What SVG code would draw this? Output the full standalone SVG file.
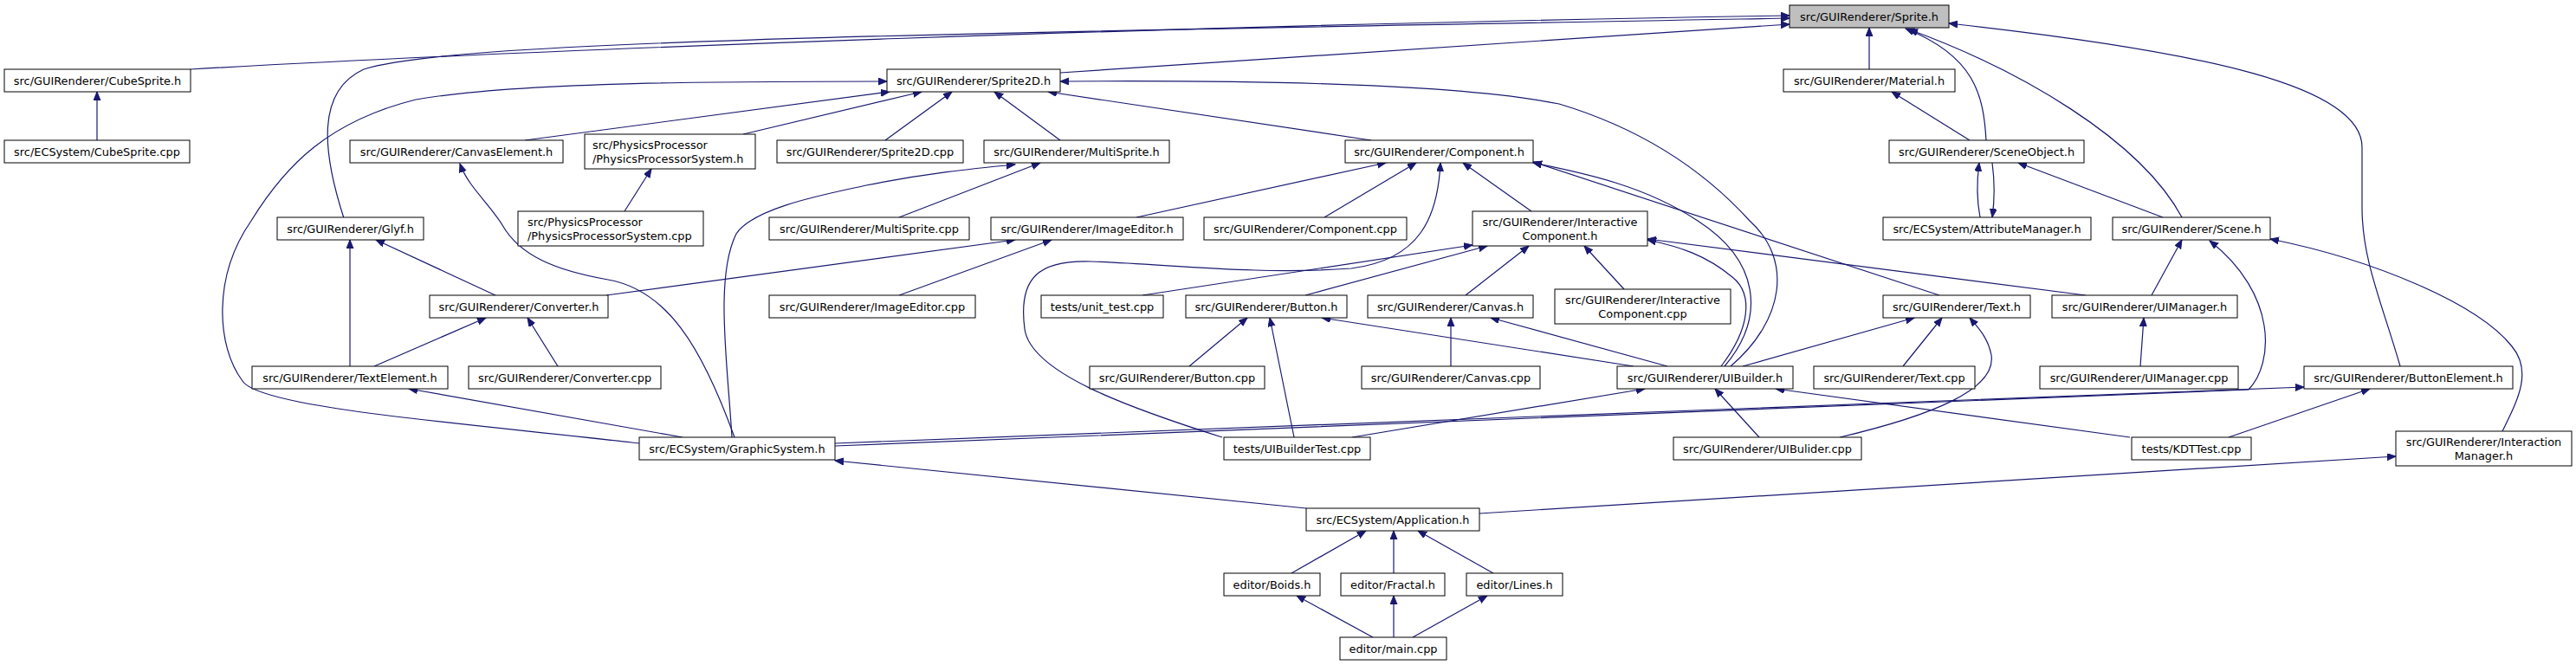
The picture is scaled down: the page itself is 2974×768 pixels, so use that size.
<svg xmlns="http://www.w3.org/2000/svg" width="2974" height="768" viewBox="0 0 2974 768">
<style>
rect{fill:#fff;stroke:#000;stroke-width:1}
.root rect{fill:#bfbfbf}
text{font-family:"DejaVu Sans","Liberation Sans",sans-serif;font-size:12.9px;fill:#000;text-anchor:middle}
text.l{text-anchor:start}
#edges path{fill:none;stroke:#191970;stroke-width:1.2;marker-end:url(#a)}
</style>
<defs>
<marker id="a" markerUnits="userSpaceOnUse" markerWidth="12" markerHeight="10" refX="10" refY="4" orient="auto"><path d="M0,0 L10,4 L0,8 z" fill="#191970" stroke="#191970" stroke-width="1"/></marker>
</defs>
<rect x="0" y="0" width="2974" height="768" style="fill:#fff;stroke:none"/>
<g id="edges">
<path d="M220,80 C600,58 1400,28 2066,18"/>
<path d="M397,252 C372,175 365,105 420,80 C520,48 1000,40 2066,21"/>
<path d="M1224,84 L2066,28"/>
<path d="M2158,80 L2158,32"/>
<path d="M2293,162 C2290,110 2280,65 2200,33"/>
<path d="M2519,251 C2470,160 2330,80 2204,34"/>
<path d="M2771,423 C2750,350 2727,300 2727,240 L2727,170 C2727,100 2550,60 2250,27"/>
<path d="M112,162 L112,106"/>
<path d="M2274,162 L2184,106"/>
<path d="M2286,251 C2282,230 2282,210 2285,188"/>
<path d="M2300,188 C2303,210 2303,230 2300,251"/>
<path d="M2497,251 L2330,188"/>
<path d="M606,162 L1027,106"/>
<path d="M858,155 L1064,106"/>
<path d="M1022,162 L1099,106"/>
<path d="M1224,162 L1148,106"/>
<path d="M1583,162 L1210,106"/>
<path d="M1998,423 C2060,370 2070,300 2020,255 C1970,200 1900,150 1800,120 C1700,100 1500,92 1224,94"/>
<path d="M738,512 C550,490 300,472 280,440 C250,400 245,320 290,255 C330,190 380,140 480,115 C600,94 850,94 1024,94"/>
<path d="M848,505 C810,400 770,335 702,323 C640,312 600,295 580,260 C565,235 540,215 531,189"/>
<path d="M845,505 C840,420 825,320 850,270 C870,240 950,225 1000,214 C1070,200 1120,195 1172,190"/>
<path d="M788,505 L472,449"/>
<path d="M964,512 L2660,447"/>
<path d="M964,515 L2596,450 C2625,420 2630,340 2551,278"/>
<path d="M1508,587 L964,532"/>
<path d="M1708,593 L2766,527"/>
<path d="M2889,498 C2905,465 2925,430 2900,400 C2860,350 2740,300 2621,276"/>
<path d="M1491,662 L1577,613"/>
<path d="M1609,662 L1609,613"/>
<path d="M1724,662 L1637,613"/>
<path d="M1585,736 L1497,688"/>
<path d="M1609,736 L1609,688"/>
<path d="M1631,736 L1717,688"/>
<path d="M404,423 L404,277"/>
<path d="M572,341 L434,277"/>
<path d="M432,423 L561,367"/>
<path d="M644,423 L609,367"/>
<path d="M700,341 L1172,277"/>
<path d="M1038,341 L1214,277"/>
<path d="M721,244 L752,195"/>
<path d="M1038,251 L1201,188"/>
<path d="M1312,251 L1600,188"/>
<path d="M1529,251 L1635,188"/>
<path d="M1768,244 L1689,188"/>
<path d="M1411,505 C1300,470 1190,430 1183,380 C1175,320 1200,300 1260,302 C1350,305 1450,318 1560,310 C1640,300 1660,250 1663,188"/>
<path d="M1991,423 C2040,365 2030,300 1960,255 C1900,215 1830,200 1770,188"/>
<path d="M1987,423 C2020,380 2025,340 2000,320 C1970,295 1940,285 1902,277"/>
<path d="M2408,341 L1902,276"/>
<path d="M1319,341 L1700,283"/>
<path d="M1507,341 L1717,284"/>
<path d="M1692,341 L1765,284"/>
<path d="M1875,334 L1829,284"/>
<path d="M2239,341 L1770,187"/>
<path d="M1886,423 L1526,367"/>
<path d="M1925,423 L1721,367"/>
<path d="M2012,423 L2210,367"/>
<path d="M1373,423 L1440,367"/>
<path d="M1494,505 L1466,367"/>
<path d="M1675,423 L1675,367"/>
<path d="M1561,505 L1899,449"/>
<path d="M2031,505 L1980,449"/>
<path d="M2459,505 L2050,449"/>
<path d="M2197,423 L2242,367"/>
<path d="M2124,505 C2230,480 2305,450 2299,410 C2295,390 2285,380 2274,367"/>
<path d="M2471,423 L2475,367"/>
<path d="M2484,341 L2519,277"/>
<path d="M2573,505 L2736,449"/>
</g>
<g id="n_sprite_h" class="root"><rect x="2066" y="6" width="184" height="26"/><text x="2158" y="23.5">src/GUIRenderer/Sprite.h</text></g>
<g id="n_cubesprite_h"><rect x="5" y="80" width="215" height="26"/><text x="112.5" y="97.5">src/GUIRenderer/CubeSprite.h</text></g>
<g id="n_sprite2d_h"><rect x="1024" y="80" width="200" height="26"/><text x="1124" y="97.5">src/GUIRenderer/Sprite2D.h</text></g>
<g id="n_material_h"><rect x="2059" y="80" width="198" height="26"/><text x="2158" y="97.5">src/GUIRenderer/Material.h</text></g>
<g id="n_cubesprite_cpp"><rect x="5" y="162" width="214" height="26"/><text x="112" y="179.5">src/ECSystem/CubeSprite.cpp</text></g>
<g id="n_canvaselement_h"><rect x="404" y="162" width="246" height="26"/><text x="527" y="179.5">src/GUIRenderer/CanvasElement.h</text></g>
<g id="n_pps_h"><rect x="675" y="155" width="197" height="40"/><text class="l" x="684" y="171.5">src/PhysicsProcessor</text><text class="l" x="684" y="187.5">/PhysicsProcessorSystem.h</text></g>
<g id="n_sprite2d_cpp"><rect x="897" y="162" width="215" height="26"/><text x="1004.5" y="179.5">src/GUIRenderer/Sprite2D.cpp</text></g>
<g id="n_multisprite_h"><rect x="1136" y="162" width="214" height="26"/><text x="1243" y="179.5">src/GUIRenderer/MultiSprite.h</text></g>
<g id="n_component_h"><rect x="1553" y="162" width="217" height="26"/><text x="1661.5" y="179.5">src/GUIRenderer/Component.h</text></g>
<g id="n_sceneobject_h"><rect x="2181" y="162" width="225" height="26"/><text x="2293.5" y="179.5">src/GUIRenderer/SceneObject.h</text></g>
<g id="n_glyf_h"><rect x="320" y="251" width="169" height="26"/><text x="404.5" y="268.5">src/GUIRenderer/Glyf.h</text></g>
<g id="n_pps_cpp"><rect x="598" y="244" width="214" height="40"/><text class="l" x="609" y="260.5">src/PhysicsProcessor</text><text class="l" x="609" y="276.5">/PhysicsProcessorSystem.cpp</text></g>
<g id="n_multisprite_cpp"><rect x="888" y="251" width="231" height="26"/><text x="1003.5" y="268.5">src/GUIRenderer/MultiSprite.cpp</text></g>
<g id="n_imageeditor_h"><rect x="1144" y="251" width="222" height="26"/><text x="1255" y="268.5">src/GUIRenderer/ImageEditor.h</text></g>
<g id="n_component_cpp"><rect x="1390" y="251" width="234" height="26"/><text x="1507" y="268.5">src/GUIRenderer/Component.cpp</text></g>
<g id="n_interactivecomponent_h"><rect x="1700" y="244" width="202" height="40"/><text x="1801" y="260.5">src/GUIRenderer/Interactive</text><text x="1801" y="276.5">Component.h</text></g>
<g id="n_attributemanager_h"><rect x="2174" y="251" width="240" height="26"/><text x="2294" y="268.5">src/ECSystem/AttributeManager.h</text></g>
<g id="n_scene_h"><rect x="2439" y="251" width="182" height="26"/><text x="2530" y="268.5">src/GUIRenderer/Scene.h</text></g>
<g id="n_converter_h"><rect x="496" y="341" width="206" height="26"/><text x="599" y="358.5">src/GUIRenderer/Converter.h</text></g>
<g id="n_imageeditor_cpp"><rect x="888" y="341" width="238" height="26"/><text x="1007" y="358.5">src/GUIRenderer/ImageEditor.cpp</text></g>
<g id="n_unit_test_cpp"><rect x="1202" y="341" width="141" height="26"/><text x="1272.5" y="358.5">tests/unit_test.cpp</text></g>
<g id="n_button_h"><rect x="1369" y="341" width="186" height="26"/><text x="1462" y="358.5">src/GUIRenderer/Button.h</text></g>
<g id="n_canvas_h"><rect x="1579" y="341" width="191" height="26"/><text x="1674.5" y="358.5">src/GUIRenderer/Canvas.h</text></g>
<g id="n_interactivecomponent_cpp"><rect x="1795" y="334" width="203" height="40"/><text x="1896.5" y="350.5">src/GUIRenderer/Interactive</text><text x="1896.5" y="366.5">Component.cpp</text></g>
<g id="n_text_h"><rect x="2174" y="341" width="170" height="26"/><text x="2259" y="358.5">src/GUIRenderer/Text.h</text></g>
<g id="n_uimanager_h"><rect x="2369" y="341" width="214" height="26"/><text x="2476" y="358.5">src/GUIRenderer/UIManager.h</text></g>
<g id="n_textelement_h"><rect x="291" y="423" width="226" height="26"/><text x="404" y="440.5">src/GUIRenderer/TextElement.h</text></g>
<g id="n_converter_cpp"><rect x="541" y="423" width="222" height="26"/><text x="652" y="440.5">src/GUIRenderer/Converter.cpp</text></g>
<g id="n_button_cpp"><rect x="1258" y="423" width="202" height="26"/><text x="1359" y="440.5">src/GUIRenderer/Button.cpp</text></g>
<g id="n_canvas_cpp"><rect x="1572" y="423" width="206" height="26"/><text x="1675" y="440.5">src/GUIRenderer/Canvas.cpp</text></g>
<g id="n_uibuilder_h"><rect x="1867" y="423" width="203" height="26"/><text x="1968.5" y="440.5">src/GUIRenderer/UIBuilder.h</text></g>
<g id="n_text_cpp"><rect x="2094" y="423" width="186" height="26"/><text x="2187" y="440.5">src/GUIRenderer/Text.cpp</text></g>
<g id="n_uimanager_cpp"><rect x="2355" y="423" width="229" height="26"/><text x="2469.5" y="440.5">src/GUIRenderer/UIManager.cpp</text></g>
<g id="n_buttonelement_h"><rect x="2660" y="423" width="241" height="26"/><text x="2780.5" y="440.5">src/GUIRenderer/ButtonElement.h</text></g>
<g id="n_graphicsystem_h"><rect x="738" y="505" width="226" height="26"/><text x="851" y="522.5">src/ECSystem/GraphicSystem.h</text></g>
<g id="n_uibuildertest_cpp"><rect x="1413" y="505" width="169" height="26"/><text x="1497.5" y="522.5">tests/UIBuilderTest.cpp</text></g>
<g id="n_uibulider_cpp"><rect x="1932" y="505" width="217" height="26"/><text x="2040.5" y="522.5">src/GUIRenderer/UIBulider.cpp</text></g>
<g id="n_kdttest_cpp"><rect x="2461" y="505" width="138" height="26"/><text x="2530" y="522.5">tests/KDTTest.cpp</text></g>
<g id="n_interactionmanager_h"><rect x="2766" y="498" width="203" height="40"/><text x="2867.5" y="514.5">src/GUIRenderer/Interaction</text><text x="2867.5" y="530.5">Manager.h</text></g>
<g id="n_application_h"><rect x="1508" y="587" width="200" height="26"/><text x="1608" y="604.5">src/ECSystem/Application.h</text></g>
<g id="n_boids_h"><rect x="1413" y="662" width="111" height="26"/><text x="1468.5" y="679.5">editor/Boids.h</text></g>
<g id="n_fractal_h"><rect x="1548" y="662" width="120" height="26"/><text x="1608" y="679.5">editor/Fractal.h</text></g>
<g id="n_lines_h"><rect x="1693" y="662" width="111" height="26"/><text x="1748.5" y="679.5">editor/Lines.h</text></g>
<g id="n_main_cpp"><rect x="1547" y="736" width="123" height="26"/><text x="1608.5" y="753.5">editor/main.cpp</text></g>
</svg>
